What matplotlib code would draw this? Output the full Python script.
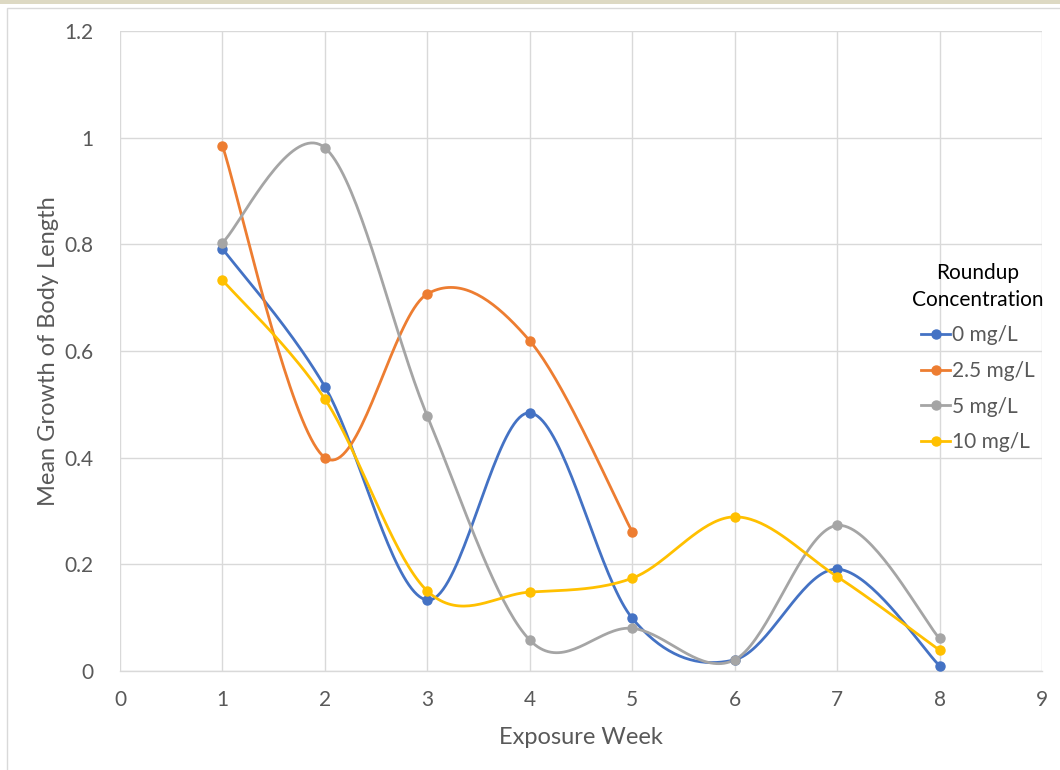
import numpy as np
import matplotlib
matplotlib.use("Agg")
import matplotlib.pyplot as plt
from matplotlib.lines import Line2D
from matplotlib.patches import Rectangle

plt.rcParams['font.family'] = ['Lato', 'DejaVu Sans']

weeks = [1, 2, 3, 4, 5, 6, 7, 8]
series_names = ["0 mg/L", "2.5 mg/L", "5 mg/L", "10 mg/L"]
vals_0 = [0.792, 0.533, 0.133, 0.484, 0.099, 0.021, 0.191, 0.010]
vals_25 = [0.985, 0.400, 0.707, 0.619, 0.261]
vals_5 = [0.803, 0.981, 0.478, 0.058, 0.080, 0.021, 0.273, 0.061]
vals_10 = [0.733, 0.510, 0.150, 0.148, 0.174, 0.289, 0.177, 0.039]
colors = ["#4472C4", "#ED7D31", "#A5A5A5", "#FFC000"]
x_ticks = list(range(0, 10))
y_ticks = [0, 0.2, 0.4, 0.6, 0.8, 1.0, 1.2]
y_tick_labels = ["0", "0.2", "0.4", "0.6", "0.8", "1", "1.2"]


def smooth(xs, ys, n=40):
    xs = np.asarray(xs, float)
    ys = np.asarray(ys, float)
    P = np.column_stack([xs, ys])
    out = []
    m = len(P)
    for i in range(m - 1):
        p0 = P[i - 1] if i > 0 else P[i]
        p1 = P[i]
        p2 = P[i + 1]
        p3 = P[i + 2] if i + 2 < m else P[i + 1]
        c1 = p1 + (p2 - p0) / 6.0
        c2 = p2 - (p3 - p1) / 6.0
        t = np.linspace(0, 1, n)[:, None]
        seg = ((1 - t) ** 3) * p1 + 3 * ((1 - t) ** 2) * t * c1 + 3 * (1 - t) * t ** 2 * c2 + t ** 3 * p2
        if i > 0:
            seg = seg[1:]
        out.append(seg)
    out = np.vstack(out)
    return out[:, 0], out[:, 1]


fig = plt.figure(figsize=(10.6, 7.7), dpi=100)
# decorative top band and frame
fig.patches.append(Rectangle((0, 1 - 4 / 770), 1, 4 / 770, transform=fig.transFigure,
                             facecolor="#DDD9C3", edgecolor="none", zorder=0))
fig.patches.append(Rectangle((7 / 1060, -0.1), 1.2, 1 - 8 / 770 + 0.1, transform=fig.transFigure,
                             facecolor="none", edgecolor="#D9D9D9", linewidth=1.0, zorder=0))

ax = fig.add_axes([120 / 1060, 99 / 770, 922 / 1060, 640 / 770])
ax.set_xlim(0, 9)
ax.set_ylim(0, 1.2)
ax.set_xticks(x_ticks)
ax.set_yticks(y_ticks)
ax.set_yticklabels(y_tick_labels)
ax.grid(True, color="#D9D9D9", linewidth=1.0)
ax.set_axisbelow(True)
for s in ["top", "right", "left"]:
    ax.spines[s].set_visible(False)
ax.spines["bottom"].set_color("#D9D9D9")
ax.spines["bottom"].set_linewidth(1.0)
ax.tick_params(axis="both", length=0, labelsize=15, colors="#595959")
ax.tick_params(axis="x", pad=14)
ax.tick_params(axis="y", pad=19)

all_vals = [vals_0, vals_25, vals_5, vals_10]
handles = []
for name, vals, c in zip(series_names, all_vals, colors):
    wx = weeks[:len(vals)]
    sx, sy = smooth(wx, vals)
    ax.plot(sx, sy, color=c, linewidth=2.0, solid_capstyle="round", zorder=3)
    ax.plot(wx, vals, "o", color=c, markersize=6.5, zorder=4)
    handles.append(Line2D([0], [0], color=c, linewidth=2.0, marker="o", markersize=6.5))

ax.set_xlabel("Exposure Week", fontsize=17, color="#595959", labelpad=12)
ax.set_ylabel("Mean Growth of Body Length", fontsize=17, color="#595959", labelpad=4)

leg = fig.legend(handles, series_names, loc="upper left",
                 bbox_to_anchor=(904 / 1060, 1 - 255 / 770),
                 frameon=False, fontsize=15, handlelength=1.4, handletextpad=0.1,
                 labelspacing=0.75, title="Roundup\nConcentration", title_fontsize=15,
                 borderaxespad=0.0)
leg.get_title().set_multialignment("center")
leg.get_title().set_color("#000000")
leg.get_title().set_linespacing(1.4)
for t in leg.get_texts():
    t.set_color("#595959")

fig.savefig("out.png", dpi=100)
